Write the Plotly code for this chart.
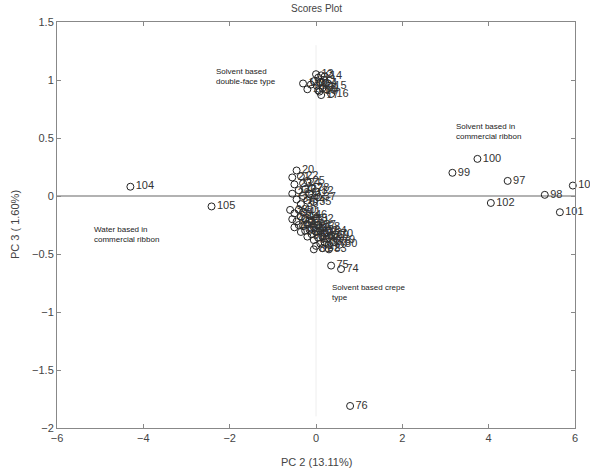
import plotly.graph_objects as go

# ---- data (PC2, PC3 scores, sample labels) ----
top_pc2 = [0.05, 0.12, 0.18, 0.22, 0.10, 0.02, -0.05, 0.15, 0.25, 0.08,
           -0.12, -0.20, 0.00, 0.20, 0.30, 0.35, 0.12, 0.05, -0.30]
top_pc3 = [1.02, 1.04, 1.00, 0.97, 0.98, 0.95, 0.99, 0.93, 0.92, 0.90,
           0.96, 0.92, 1.05, 1.03, 0.95, 0.88, 0.87, 0.91, 0.97]
top_lab = [str(i) for i in range(1, 20)]

mid_pc2 = [-0.45, -0.55, -0.35, -0.50, -0.30, -0.20, -0.40, -0.25, -0.10, -0.55,
           -0.30, -0.15, 0.00, -0.45, -0.20, -0.05, -0.35, 0.05,
           -0.60, -0.50, -0.40, -0.30, -0.55, -0.45, -0.35, -0.25, -0.15, -0.50,
           -0.40, -0.30, -0.20, -0.10, 0.00, -0.35, -0.25, -0.15, -0.05, 0.05,
           0.15, -0.20, -0.10, 0.00, 0.10, 0.20, 0.30, -0.05, 0.05, 0.15,
           0.25, 0.35, 0.45, 0.00, 0.10, 0.20, 0.30, 0.40, 0.50, 0.55,
           -0.05, 0.15, 0.30]
mid_pc3 = [0.22, 0.16, 0.17, 0.10, 0.11, 0.13, 0.05, 0.06, 0.07, 0.02,
           0.00, 0.02, 0.04, -0.03, -0.04, -0.05, -0.07, -0.01,
           -0.12, -0.15, -0.12, -0.14, -0.20, -0.22, -0.18, -0.20, -0.17, -0.27,
           -0.25, -0.26, -0.24, -0.22, -0.20, -0.31, -0.30, -0.29, -0.27, -0.25,
           -0.27, -0.35, -0.33, -0.31, -0.30, -0.32, -0.30, -0.38, -0.36, -0.35,
           -0.37, -0.34, -0.33, -0.43, -0.41, -0.40, -0.42, -0.40, -0.38, -0.42,
           -0.46, -0.45, -0.46]
mid_lab = [str(i) for i in list(range(20, 74)) + list(range(77, 84))]

out_pc2 = [0.35, 0.58, 0.79, -4.30, -2.42, 3.74, 3.16, 4.44, 5.30, 4.05, 5.95, 5.65]
out_pc3 = [-0.60, -0.63, -1.81, 0.08, -0.09, 0.32, 0.20, 0.13, 0.01, -0.06, 0.09, -0.14]
out_lab = ["75", "74", "76", "104", "105", "100", "99", "97", "98", "102", "103", "101"]

groups = [
    ("Solvent based<br>double-face type", -2.37, 1.03),
    ("Solvent based in<br>commercial ribbon", 3.19, 0.56),
    ("Water based in<br>commercial ribbon", -5.2, -0.33),
    ("Solvent based crepe<br>type", 0.33, -0.83),
]

pc2 = top_pc2 + mid_pc2 + out_pc2
pc3 = top_pc3 + mid_pc3 + out_pc3
lab = top_lab + mid_lab + out_lab

fig = go.Figure()
fig.add_trace(go.Scatter(
    x=pc2, y=pc3, text=lab, mode="markers+text",
    textposition="middle right",
    textfont=dict(family="Liberation Sans, Arial", size=11, color="#333"),
    marker=dict(symbol="circle-open", size=7, color="#222", line=dict(width=1)),
    showlegend=False, cliponaxis=False,
))

fig.add_shape(type="line", x0=-6, x1=6, y0=0, y1=0, xref="x", yref="y",
              line=dict(color="#999", width=1.5), layer="below")
fig.add_shape(type="line", x0=0, x1=0, y0=-1.9, y1=1.3, xref="x", yref="y",
              line=dict(color="#eee", width=1), layer="below")

for txt, gx, gy in groups:
    fig.add_annotation(x=gx, y=gy, text=txt, showarrow=False, xanchor="left",
                       yanchor="middle", align="left",
                       font=dict(family="Liberation Sans, Arial", size=8, color="#222"))

fig.add_annotation(text="Scores Plot", xref="paper", yref="paper", x=0.5, y=1,
                   yanchor="middle", yshift=14, showarrow=False,
                   font=dict(family="Liberation Sans, Arial", size=10, color="#444"))
fig.add_annotation(text="PC 2 (13.11%)", xref="paper", yref="paper", x=0.5,
                   y=-0.084, yanchor="middle", showarrow=False,
                   font=dict(family="Liberation Sans, Arial", size=11, color="#444"))
fig.add_annotation(text="PC 3 ( 1.60%)", xref="paper", yref="paper", x=-0.081,
                   y=0.5, textangle=-90, xanchor="center", yanchor="middle",
                   showarrow=False,
                   font=dict(family="Liberation Sans, Arial", size=11, color="#444"))

axis_common = dict(showgrid=False, zeroline=False, showline=True, linecolor="#888",
                   linewidth=1, mirror="ticks", ticks="inside", ticklen=4,
                   tickcolor="#888",
                   tickfont=dict(family="Liberation Sans, Arial", size=11, color="#444"))
fig.update_xaxes(range=[-6, 6], dtick=2, tick0=-6, **axis_common)
fig.update_yaxes(range=[-2, 1.5], dtick=0.5, tick0=-2, **axis_common)

fig.update_layout(width=590, height=468, margin=dict(l=57, r=15, t=22, b=40),
                  plot_bgcolor="white", paper_bgcolor="white")

fig.write_html("out.html")
